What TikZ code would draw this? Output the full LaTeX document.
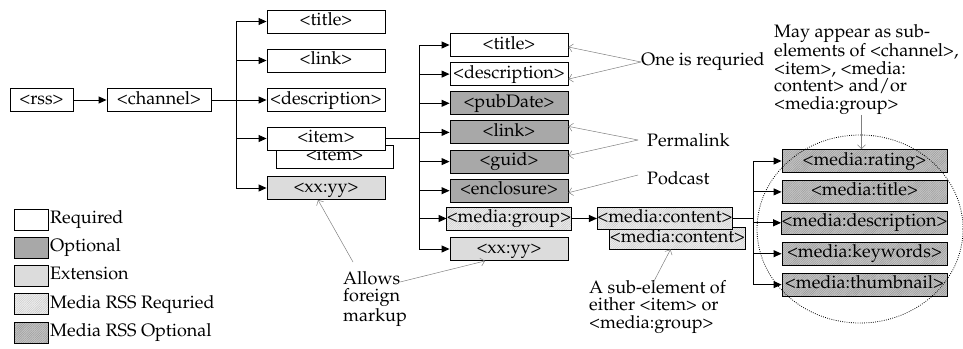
\documentclass[tikz,border=0pt]{standalone}
\usepackage[T1]{fontenc}
\usepackage{mathpazo}
\usetikzlibrary{arrows.meta,patterns.meta,calc}
\newcommand\tagx[1]{\textless#1\textgreater}
\definecolor{optg}{HTML}{A8A8A8}
\definecolor{extg}{HTML}{DCDCDC}
\definecolor{mreqbase}{HTML}{EEEEEE}
\definecolor{mreqline}{HTML}{C6C6C6}
\definecolor{moptbase}{HTML}{C4C4C4}
\definecolor{moptline}{HTML}{949494}
\definecolor{notec}{HTML}{808080}
\tikzset{
  txt/.style={font=\fontsize{18}{18}\selectfont, text height=12.5pt, text depth=4.5pt, inner sep=0pt},
  box/.style={txt, draw=black, line width=0.9pt, minimum height=23pt},
  req/.style={box, fill=white},
  opt/.style={box, fill=optg},
  ext/.style={box, fill=extg},
  hatchreq/.style={preaction={fill=mreqbase}, pattern={Lines[angle=45,distance=1.6pt,line width=0.4pt]}, pattern color=mreqline},
  hatchopt/.style={preaction={fill=moptbase}, pattern={Lines[angle=45,distance=1.6pt,line width=0.4pt]}, pattern color=moptline},
  mreq/.style={box, hatchreq},
  mopt/.style={box, hatchopt},
  ln/.style={line width=1pt, draw=black},
  arr/.style={ln, -{Triangle[length=8pt,width=7pt]}},
  note/.style={draw=notec, line width=0.5pt, -{Straight Barb[length=4pt,width=8pt]}},
  ann/.style={font=\fontsize{18}{17.75}\selectfont, inner sep=0pt, align=left},
  legbox/.style={draw=black, line width=0.8pt, minimum width=34pt, minimum height=21pt, inner sep=0pt},
  legtxt/.style={txt, anchor=west}
}
\begin{document}
\begin{tikzpicture}[x=1pt,y=-1pt]
\useasboundingbox (0,0) rectangle (963,348);
% column 1
\node[req, minimum width=63pt] (rss) at (41.5,100) {\tagx{rss}};
\node[req, minimum width=104pt] (channel) at (159,100) {\tagx{channel}};
% column 2
\node[req, minimum width=118pt] (c2title) at (326,21.5) {\tagx{title}};
\node[req, minimum width=118pt] (c2link) at (326,60.5) {\tagx{link}};
\node[req, minimum width=118pt] (c2desc) at (326,100) {\tagx{description}};
\node[req, minimum width=117pt] (c2itemb) at (334.5,156.5) {\tagx{item}};
\node[req, minimum width=118pt] (c2item) at (326,138.5) {\tagx{item}};
\node[ext, minimum width=118pt] (c2xx) at (326,188) {\tagx{xx:yy}};
% column 3
\node[req, minimum width=118pt] (c3title) at (509,45) {\tagx{title}};
\node[req, minimum width=118pt] (c3desc) at (509,74.1) {\tagx{description}};
\node[opt, minimum width=118pt] (c3pub) at (509,103.3) {\tagx{pubDate}};
\node[opt, minimum width=118pt] (c3link) at (509,132.4) {\tagx{link}};
\node[opt, minimum width=118pt] (c3guid) at (509,161.6) {\tagx{guid}};
\node[opt, minimum width=118pt] (c3encl) at (509,190.7) {\tagx{enclosure}};
\node[mreq, minimum width=118pt] (c3mg) at (509,218.5) {\tagx{media:group}};
\node[ext, minimum width=118pt] (c3xx) at (509,249) {\tagx{xx:yy}};
% media content
\node[mreq, minimum width=131pt, minimum height=22pt] (mcb) at (677.5,238) {\tagx{media:content}};
\node[mreq, minimum width=132pt, minimum height=22pt] (mc) at (665,218.5) {\tagx{media:content}};
% column 4
\node[mopt, minimum width=165pt] (c4rating) at (864.5,161) {\tagx{media:rating}};
\node[mopt, minimum width=165pt] (c4title) at (864.5,191.9) {\tagx{media:title}};
\node[mopt, minimum width=165pt] (c4desc) at (864.5,222.8) {\tagx{media:description}};
\node[mopt, minimum width=165pt] (c4key) at (864.5,253.7) {\tagx{media:keywords}};
\node[mopt, minimum width=165pt] (c4thumb) at (864.5,284.6) {\tagx{media:thumbnail}};
% connectors
\draw[arr] (rss) -- (channel);
\draw[ln] (channel.east) -- ++(25,0) coordinate (t1);
\draw[ln] (t1 |- c2title) -- (t1 |- c2xx);
\foreach \n in {c2title,c2link,c2desc,c2item,c2xx} \draw[arr] (t1 |- \n.west) -- (\n.west);
\draw[ln] (c2item.east) -- ++(34,0) coordinate (t2);
\draw[ln] (t2 |- c3title) -- (t2 |- c3xx);
\foreach \n in {c3title,c3desc,c3pub,c3link,c3guid,c3encl,c3mg,c3xx} \draw[arr] (t2 |- \n.west) -- (\n.west);
\draw[arr] (c3mg.east) -- (mc.west);
\draw[ln] (mc.east) -- ++(20,0) coordinate (t3);
\draw[ln] (t3 |- c4rating) -- (t3 |- c4thumb);
\foreach \n in {c4rating,c4title,c4desc,c4key,c4thumb} \draw[arr] (t3 |- \n.west) -- (\n.west);
% ellipse
\draw[line width=0.8pt, dash pattern=on 0.8pt off 1.4pt] (860,229) ellipse [x radius=103pt, y radius=94pt];
% annotations
\node[ann, anchor=west] (one) at (641,62) {One is requried};
\draw[note] (one.west) -- ($(c3title.east)+(0,2)$);
\draw[note] (one.west) -- ($(c3desc.east)+(0,5)$);
\node[ann, anchor=west] (perm) at (647,140) {Permalink};
\draw[note] ($(perm.west)+(-9,0)$) -- ($(c3link.east)+(0,-6)$);
\draw[note] ($(perm.west)+(-9,0)$) -- ($(c3guid.east)+(0,-6)$);
\node[ann, anchor=west] (pod) at (647,178) {Podcast};
\draw[note] ($(pod.west)+(-9,-3)$) -- ($(c3encl.east)+(0,2)$);
\node[ann, anchor=north west] (allow) at (343,271) {Allows\\foreign\\markup};
\draw[note] ($(allow.north west)+(10,-9)$) -- ($(c2xx.south)+(-8,0)$);
\draw[note] ($(allow.north west)+(57,11)$) -- ($(c3xx.south)+(-24,0)$);
\node[ann, anchor=north west] (sub) at (589,280) {A sub-element of\\either \tagx{item} or\\\tagx{media:group}};
\draw[note] ($(sub.north west)+(64,3)$) -- ($(mcb.south)+(-7,0)$);
\node[ann, anchor=north west] (may) at (774,24) {May appear as sub-\\elements of \tagx{channel},\\\tagx{item}, \tagx{media:\\content} and/or\\\tagx{media:group}};
\path ($(c4rating.north)+(-3,0)$) coordinate (rt);
\draw[note] (may.south -| rt) -- (rt);
% legend
\node[legbox, fill=white] (l1) at (31,219.5) {};
\node[legbox, fill=optg] (l2) at (31,247.5) {};
\node[legbox, fill=extg] (l3) at (31,275.5) {};
\node[legbox, hatchreq] (l4) at (31,304) {};
\node[legbox, hatchopt] (l5) at (31,332.5) {};
\node[legtxt] (lt1) at (50,219.5) {Required};
\node[legtxt] (lt2) at (50,247.5) {Optional};
\node[legtxt] (lt3) at (50,275.5) {Extension};
\node[legtxt] (lt4) at (50,304) {Media RSS Requried};
\node[legtxt] (lt5) at (50,332.5) {Media RSS Optional};
\end{tikzpicture}
\end{document}
